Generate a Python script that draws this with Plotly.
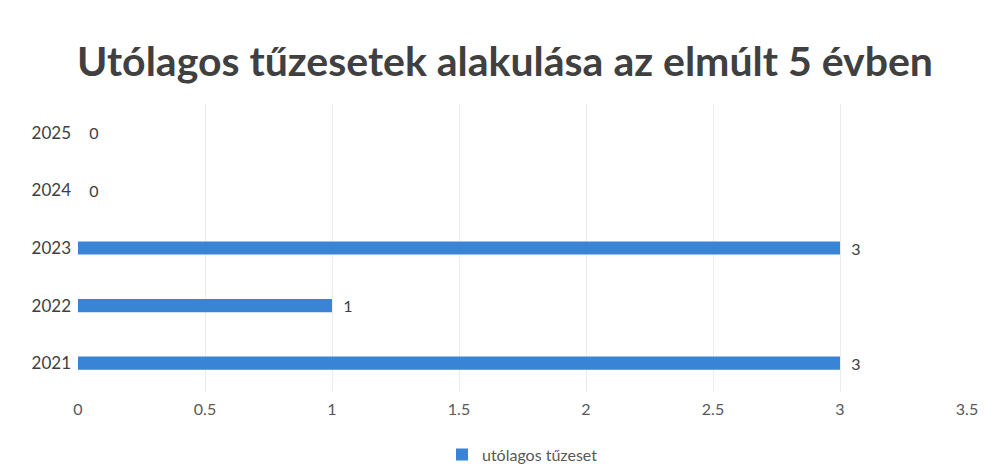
import plotly.graph_objects as go

years = ["2021", "2022", "2023", "2024", "2025"]
values = [3, 1, 3, 0, 0]
series_name = "utólagos tűzeset"
title_text = "Utólagos tűzesetek alakulása az elmúlt 5 évben"
x_ticks = [0, 0.5, 1, 1.5, 2, 2.5, 3, 3.5]

FONT = "Lato, Open Sans, sans-serif"

fig = go.Figure()
fig.add_trace(go.Bar(
    y=years, x=values, orientation="h", name=series_name,
    marker=dict(color="#3a84d6", line=dict(width=0)),
    width=0.23,
    text=[str(v) for v in values], texttemplate="  %{text}", textposition="outside",
    constraintext="none",
    textfont=dict(family=FONT, size=16, color="#404040"),
    cliponaxis=False,
))

fig.update_layout(
    width=994, height=470,
    paper_bgcolor="white", plot_bgcolor="white",
    margin=dict(l=70, r=35, t=96, b=86, autoexpand=False),
    title=dict(text=title_text, x=0.5, xanchor="center", yref="container", y=0.885, yanchor="middle",
               font=dict(family=FONT, size=41, color="#404040", weight="bold")),
    xaxis=dict(range=[0, 3.5], tickvals=x_ticks, ticktext=[f"{t:g}" for t in x_ticks],
               showgrid=True, gridcolor="#ececec", gridwidth=1, zeroline=False,
               showline=False, ticks="", automargin=False, ticklabelstandoff=6,
               tickfont=dict(family=FONT, size=16, color="#595959")),
    yaxis=dict(range=[-0.5, 4.5], showgrid=False, zeroline=False, showline=False, ticks="",
               automargin=False, ticklabelstandoff=6,
               tickfont=dict(family=FONT, size=17, color="#404040")),
    showlegend=True,
    legend=dict(orientation="h", x=0.5, xanchor="center", yref="container", y=0.05, yanchor="middle",
                itemwidth=30,
                font=dict(family=FONT, size=16, color="#595959")),
)

fig.write_html("out.html")
